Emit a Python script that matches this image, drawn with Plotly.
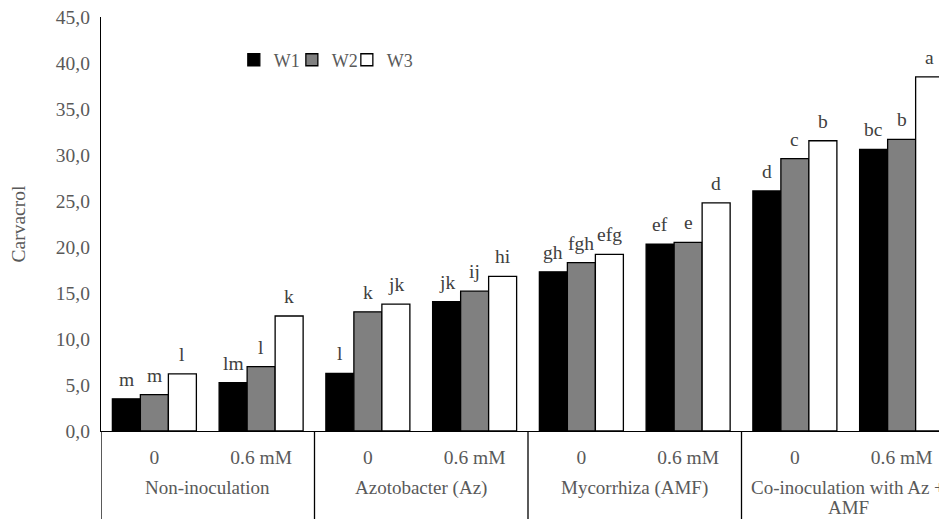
import plotly.graph_objects as go

groups = ["Non-inoculation", "Azotobacter (Az)", "Mycorrhiza (AMF)", "Co-inoculation with Az +<br>AMF"]
doses = ["0", "0.6 mM"]
series_names = ["W1", "W2", "W3"]
w1 = [3.5, 5.25, 6.27, 14.05, 17.3, 20.3, 26.1, 30.6]
w2 = [3.95, 7.0, 12.95, 15.2, 18.3, 20.5, 29.6, 31.7]
w3 = [6.2, 12.5, 13.8, 16.8, 19.2, 24.8, 31.55, 38.5]
w1_letters = ["m", "lm", "l", "jk", "gh", "ef", "d", "bc"]
w2_letters = ["m", "l", "k", "ij", "fgh", "e", "c", "b"]
w3_letters = ["l", "k", "jk", "hi", "efg", "d", "b", "a"]
y_ticks = [0, 5, 10, 15, 20, 25, 30, 35, 40, 45]

values = [w1, w2, w3]
letters = [w1_letters, w2_letters, w3_letters]
fills = ["#000000", "#808080", "#ffffff"]

FONT = "Liberation Serif, Times New Roman, Tinos, serif"
GRAY = "#595959"
FS = 19.5
bargap = 0.213

n_cat = len(groups) * len(doses)
xpos = list(range(n_cat))
ticktext = [d for g in groups for d in doses]

legend_names = ["legend", "legend2", "legend3"]
legend_x = [0.1570, 0.2256, 0.2906]

fig = go.Figure()
for name, vals, col, lg in zip(series_names, values, fills, legend_names):
    fig.add_trace(go.Bar(
        x=xpos, y=vals, name=name, legend=lg,
        marker=dict(color=col, line=dict(color="#000000", width=1.3)),
        hoverinfo="skip",
    ))

annotations = []
bw = (1 - bargap) / len(series_names)
for j, (vals, labs) in enumerate(zip(values, letters)):
    for i, (v, t) in enumerate(zip(vals, labs)):
        annotations.append(dict(
            x=i + (j - 1) * bw, y=v, xref="x", yref="y", text=t,
            showarrow=False, yanchor="bottom", yshift=7,
            font=dict(family=FONT, size=FS, color="#404040"),
        ))

plot_h = 414
bottom_px = 88
for k, g in enumerate(groups):
    for li, line in enumerate(g.split("<br>")):
        annotations.append(dict(
            x=2 * k + 0.5, y=-45 / plot_h, xref="x", yref="paper", text=line,
            showarrow=False, yanchor="top", xanchor="center", yshift=-20 * li,
            borderpad=0,
            font=dict(family=FONT, size=19, color=GRAY),
        ))

shapes = []
for k in range(len(groups)):
    xb = 2 * k - 0.5
    shapes.append(dict(type="line", xref="x", yref="paper", x0=xb, x1=xb,
                       y0=0, y1=-bottom_px / plot_h, line=dict(color="#000000", width=1.3)))

legend_common = dict(orientation="h", y=0.896, xanchor="left", yanchor="middle",
                     font=dict(family=FONT, size=18, color=GRAY),
                     bgcolor="rgba(0,0,0,0)")

# page body has an 8px default margin: size the figure so it lands on the 947x519 frame
fig.update_layout(
    width=939, height=511,
    margin=dict(l=93, r=0, t=9, b=bottom_px),
    plot_bgcolor="white", paper_bgcolor="white",
    barmode="group", bargap=bargap, bargroupgap=0,
    separators=",.",
    font=dict(family=FONT, size=FS, color=GRAY),
    showlegend=True,
    legend=dict(x=legend_x[0], **legend_common),
    legend2=dict(x=legend_x[1], **legend_common),
    legend3=dict(x=legend_x[2], **legend_common),
    annotations=annotations,
    shapes=shapes,
)
fig.update_xaxes(
    range=[-0.5, n_cat - 0.575], tickvals=xpos, ticktext=ticktext,
    showline=True, linecolor="#000000", linewidth=1.3, showgrid=False, zeroline=False,
    ticks="", ticklabelstandoff=8, tickfont=dict(family=FONT, size=FS, color=GRAY),
)
fig.update_yaxes(
    range=[0, 45], tickvals=y_ticks, tickformat=".1f", ticklabeloverflow="allow",
    showline=True, linecolor="#000000", linewidth=1.3, showgrid=False, zeroline=False,
    ticks="", ticklabelstandoff=6, tickfont=dict(family=FONT, size=FS, color=GRAY),
    title=dict(text="Carvacrol", font=dict(family=FONT, size=FS, color=GRAY), standoff=26),
)

fig.write_html("out.html")
